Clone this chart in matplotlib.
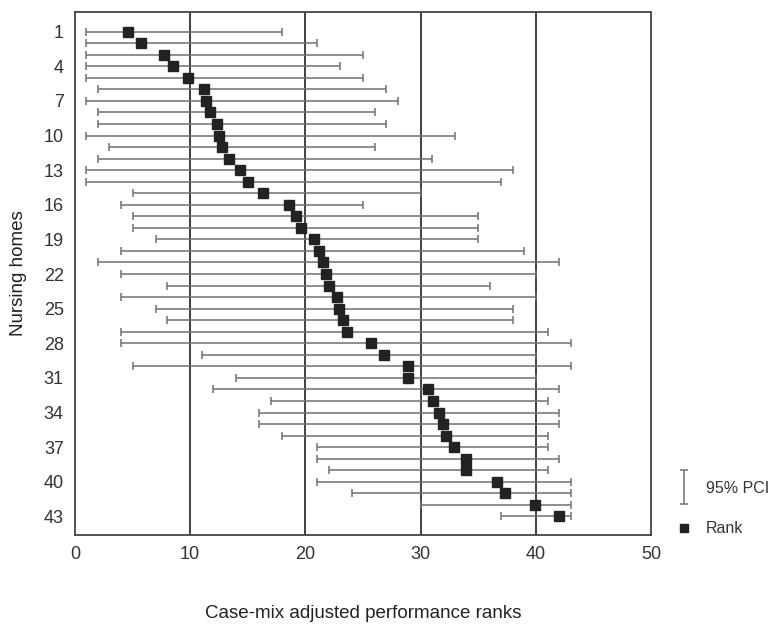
import numpy as np
import matplotlib.pyplot as plt
from matplotlib.legend_handler import HandlerErrorbar

plt.rcParams['font.family'] = ['Liberation Sans', 'DejaVu Sans']

# nursing home number, mean rank and 95% PCI bounds
homes = list(range(1, 44))
rank = [4.6, 5.7, 7.7, 8.5, 9.8, 11.2, 11.4, 11.7, 12.3, 12.5,
        12.8, 13.4, 14.3, 15.0, 16.3, 18.6, 19.2, 19.6, 20.7, 21.2,
        21.5, 21.8, 22.0, 22.7, 22.9, 23.3, 23.6, 25.7, 26.8, 28.9,
        28.9, 30.6, 31.1, 31.6, 31.9, 32.2, 32.9, 33.9, 33.9, 36.6,
        37.3, 39.9, 42.0]
lower = [1, 1, 1, 1, 1, 2, 1, 2, 2, 1,
         3, 2, 1, 1, 5, 4, 5, 5, 7, 4,
         2, 4, 8, 4, 7, 8, 4, 4, 11, 5,
         14, 12, 17, 16, 16, 18, 21, 21, 22, 21,
         24, 30, 37]
upper = [18, 21, 25, 23, 25, 27, 28, 26, 27, 33,
         26, 31, 38, 37, 30, 25, 35, 35, 35, 39,
         42, 40, 36, 40, 38, 38, 41, 43, 40, 43,
         40, 42, 41, 42, 42, 41, 41, 42, 41, 43,
         43, 43, 43]
yticks = [1, 4, 7, 10, 13, 16, 19, 22, 25, 28, 31, 34, 37, 40, 43]

rank = np.array(rank)
xerr = [rank - np.array(lower), np.array(upper) - rank]

fig = plt.figure(figsize=(7.8, 6.33), dpi=100)
ax = fig.add_axes([0.096, 0.155, 0.739, 0.826])

for x in [10, 20, 30, 40]:
    ax.axvline(x, color='#333333', lw=1.3, zorder=1)

ax.errorbar(rank, homes, xerr=xerr, fmt='none', ecolor='#707070',
            elinewidth=1.1, capsize=3, capthick=1.1, zorder=2)
ax.plot(rank, homes, 's', color='#222222', ms=7, zorder=3)

ax.set_xlim(0, 50)
ax.set_ylim(44.6, -0.7)
ax.set_xticks([0, 10, 20, 30, 40, 50])
ax.set_yticks(yticks)
ax.tick_params(length=0, labelsize=13, colors='#333333')
ax.tick_params(axis='x', pad=8)
ax.tick_params(axis='y', pad=8)
for s in ax.spines.values():
    s.set_color('#444444')
    s.set_linewidth(1.3)

ax.set_xlabel('Case-mix adjusted performance ranks', fontsize=13.5,
              color='#222222', labelpad=30)
ax.set_ylabel('Nursing homes', fontsize=13.5, color='#222222', labelpad=12)

# legend handles
eb = ax.errorbar([np.nan], [np.nan], yerr=[1], fmt='none', ecolor='#707070',
                 elinewidth=1.1, capsize=3, capthick=1.1)
sq, = ax.plot([], [], 's', color='#222222', ms=6)
leg = fig.legend([eb, sq], ['95% PCI', 'Rank'], loc='lower left',
                 bbox_to_anchor=(0.848, 0.13), frameon=False, fontsize=11.5,
                 handlelength=1.0, handletextpad=0.9, labelspacing=1.6,
                 handler_map={type(eb): HandlerErrorbar(yerr_size=1.05)})
for t in leg.get_texts():
    t.set_color('#333333')

fig.savefig('out.png', dpi=100)
